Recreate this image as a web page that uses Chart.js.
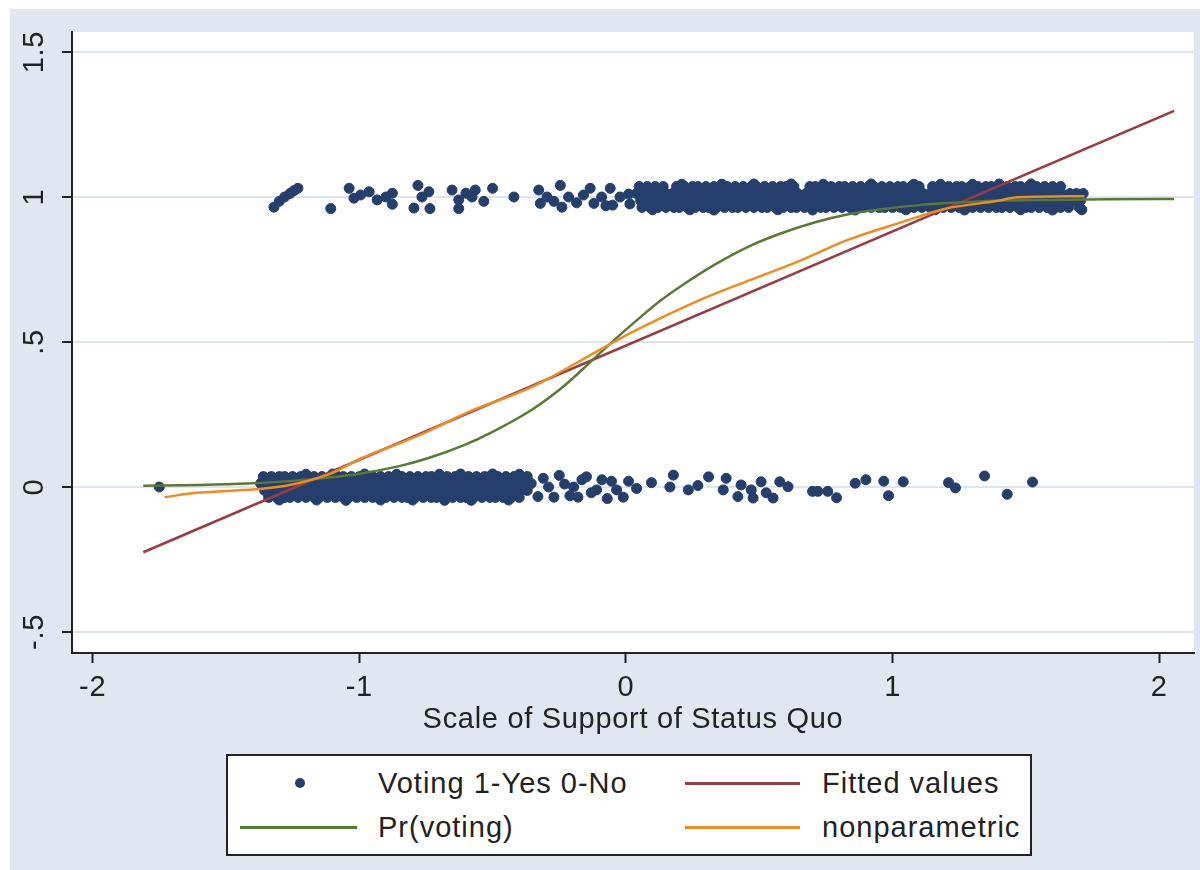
<!DOCTYPE html>
<html>
<head>
<meta charset="utf-8">
<script src="https://cdn.jsdelivr.net/npm/chart.js@4.4.0/dist/chart.umd.min.js"></script>
<style>
  body { margin: 0; background: #fff; width: 1200px; height: 870px; overflow: hidden; font-family: 'Liberation Sans', Arial, sans-serif; }
  #frame { position: absolute; left: 10px; top: 9px; width: 1190px; height: 861px; background: #e1e6f0; }
  #chart { position: absolute; left: 0; top: 0; }
  #legend { position: absolute; left: 226px; top: 754px; width: 806px; height: 102px; box-sizing: border-box; border: 2px solid #222; background: #fff; color: #222; font-size: 29px; letter-spacing: 1px; }
  #legend .txt { position: absolute; line-height: 34px; white-space: nowrap; }
  #legend .ln { position: absolute; height: 3px; }
  #legend .dot { position: absolute; width: 10px; height: 10px; border-radius: 50%; background: #253f6d; }
</style>
</head>
<body>
<div id="frame"><canvas id="chart" width="1190" height="861"></canvas></div>
<div id="legend">
  <div class="dot" style="left:67px; top:22px"></div>
  <div class="txt" style="left:150px; top:10px">Voting 1-Yes 0-No</div>
  <div class="ln" style="left:457px; top:26px; width:115px; background:#993a44"></div>
  <div class="txt" style="left:594px; top:10px">Fitted values</div>
  <div class="ln" style="left:12px; top:70px; width:117px; background:#5a7a34"></div>
  <div class="txt" style="left:150px; top:54px">Pr(voting)</div>
  <div class="ln" style="left:457px; top:70px; width:115px; background:#ee8c1c"></div>
  <div class="txt" style="left:594px; top:54px">nonparametric</div>
</div>
<script>
// axis ticks
const xTicks = [-2, -1, 0, 1, 2];
const yTicks = [-0.5, 0, 0.5, 1, 1.5];

// voters (1) - dense band read in four rows, plus scattered points
const yesRowY = [1.036, 1.012, 0.988, 0.964];
const yesHiX = [0.05,0.08,0.11,0.14,0.19,0.22,0.25,0.27,0.30,0.33,0.36,0.38,0.41,0.44,0.47,0.49,0.52,0.55,0.58,0.60,0.63,0.69,0.71,0.74,0.77,0.80,0.82,0.85,0.88,0.91,0.93,0.96,0.99,1.02,1.04,1.07,1.10,1.15,1.18,1.21,1.24,1.26,1.29,1.32,1.35,1.37,1.40,1.43,1.46,1.48,1.51,1.54,1.57,1.60,1.63];
const yesMidX = [0.04,0.065,0.095,0.125,0.15,0.175,0.205,0.235,0.26,0.285,0.315,0.345,0.37,0.395,0.425,0.455,0.48,0.505,0.535,0.565,0.59,0.615,0.645,0.675,0.70,0.725,0.755,0.785,0.81,0.835,0.865,0.895,0.92,0.945,0.975,1.005,1.03,1.055,1.085,1.115,1.14,1.165,1.195,1.225,1.25,1.275,1.305,1.335,1.36,1.385,1.415,1.445,1.47,1.495,1.525,1.555,1.58,1.605,1.635,1.665,1.69,1.715];
const yesMid2X = [0.055,0.085,0.11,0.14,0.165,0.19,0.22,0.245,0.275,0.30,0.33,0.355,0.385,0.41,0.44,0.465,0.495,0.52,0.55,0.575,0.605,0.63,0.66,0.685,0.715,0.74,0.77,0.795,0.825,0.85,0.88,0.905,0.935,0.96,0.99,1.015,1.045,1.07,1.10,1.125,1.155,1.18,1.21,1.235,1.265,1.29,1.32,1.345,1.375,1.40,1.43,1.455,1.485,1.51,1.54,1.565,1.595,1.62,1.65,1.68,1.705];
const yesLoX = [0.06,0.09,0.12,0.15,0.18,0.20,0.23,0.26,0.29,0.31,0.34,0.37,0.40,0.42,0.45,0.48,0.51,0.53,0.56,0.59,0.62,0.64,0.67,0.70,0.73,0.75,0.78,0.81,0.84,0.86,0.89,0.92,0.95,0.97,1.00,1.03,1.06,1.08,1.11,1.14,1.17,1.19,1.22,1.25,1.28,1.30,1.33,1.36,1.39,1.41,1.44,1.47,1.50,1.52,1.55,1.58,1.61,1.63,1.66,1.70];
const yesOther = [[-1.32,0.965],[-1.30,0.985],[-1.28,1.0],[-1.26,1.012],[-1.245,1.022],[-1.23,1.03],[-1.107,0.96],[-1.038,1.03],[-1.02,0.996],[-0.995,1.007],[-0.963,1.018],[-0.933,0.99],[-0.90,1.0],[-0.876,1.013],[-0.876,0.975],[-0.795,0.962],[-0.78,1.04],[-0.765,1.0],[-0.739,1.018],[-0.735,0.96],[-0.652,1.024],[-0.627,0.99],[-0.627,0.96],[-0.60,1.013],[-0.577,1.0],[-0.565,1.024],[-0.533,0.985],[-0.50,1.03],[-0.42,1.0],[-0.327,1.024],[-0.321,0.978],[-0.296,1.0],[-0.27,0.985],[-0.246,1.04],[-0.24,0.965],[-0.215,1.0],[-0.185,0.98],[-0.159,1.007],[-0.134,1.03],[-0.12,0.978],[-0.091,1.0],[-0.075,0.97],[-0.059,1.03],[-0.05,0.972],[-0.022,1.0],[0.01,1.01],[0.015,0.976],
  [0.21,1.044],[0.48,1.045],[0.74,1.044],[0.92,1.045],[1.18,1.044],[1.40,1.045],[1.52,1.045],[0.10,0.956],[0.33,0.955],[0.57,0.956],[0.86,0.955],[1.05,0.956],[1.27,0.955],[1.48,0.956],[1.71,0.956],
  [0.36,1.044],[0.62,1.045],[1.08,1.044],[1.30,1.044],[0.24,0.956],[0.70,0.955],[1.16,0.956],[1.60,0.955]];

// non-voters (0)
const noRowY = [0.036, 0.012, -0.012, -0.036];
const noHiX = [-1.36,-1.33,-1.30,-1.28,-1.25,-1.22,-1.19,-1.17,-1.14,-1.11,-1.08,-1.06,-1.03,-1.00,-0.97,-0.95,-0.92,-0.89,-0.86,-0.84,-0.81,-0.78,-0.75,-0.73,-0.70,-0.67,-0.64,-0.62,-0.59,-0.56,-0.53,-0.51,-0.48,-0.45,-0.42,-0.40,-0.37];
const noMidX = [-1.37,-1.345,-1.315,-1.29,-1.26,-1.235,-1.205,-1.18,-1.15,-1.125,-1.095,-1.07,-1.04,-1.015,-0.985,-0.96,-0.93,-0.905,-0.875,-0.85,-0.82,-0.795,-0.765,-0.74,-0.71,-0.685,-0.655,-0.63,-0.60,-0.575,-0.545,-0.52,-0.49,-0.465,-0.435,-0.41,-0.38,-0.355];
const noMid2X = [-1.355,-1.33,-1.30,-1.275,-1.245,-1.22,-1.19,-1.165,-1.135,-1.11,-1.08,-1.055,-1.025,-1.0,-0.97,-0.945,-0.915,-0.89,-0.86,-0.835,-0.805,-0.78,-0.75,-0.725,-0.695,-0.67,-0.64,-0.615,-0.585,-0.56,-0.53,-0.505,-0.475,-0.45,-0.42,-0.395,-0.37];
const noLoX = [-1.34,-1.31,-1.28,-1.26,-1.23,-1.20,-1.17,-1.15,-1.12,-1.09,-1.06,-1.04,-1.01,-0.98,-0.95,-0.93,-0.90,-0.87,-0.84,-0.82,-0.79,-0.76,-0.73,-0.71,-0.68,-0.65,-0.62,-0.60,-0.57,-0.54,-0.51,-0.49,-0.46,-0.43,-0.40];
const noOther = [[-1.75,0],[-1.30,-0.045],[-1.05,-0.046],[-0.80,-0.045],[-0.58,-0.046],[-0.44,-0.045],[-1.20,0.044],[-0.98,0.045],[-0.70,0.044],[-0.50,0.045],
  [-1.16,-0.045],[-0.92,-0.045],[-0.68,-0.046],[-1.10,0.045],[-0.86,0.044],[-0.62,0.045],[-0.40,0.044],
  [-0.33,-0.033],[-0.31,0.03],[-0.29,0.0],[-0.27,-0.035],[-0.25,0.04],[-0.23,0.01],[-0.21,-0.03],[-0.196,0.0],[-0.18,-0.035],[-0.165,0.025],[-0.148,0.035],[-0.13,-0.02],[-0.11,-0.01],[-0.09,0.025],[-0.07,-0.04],[-0.054,0.02],[-0.035,-0.01],[-0.01,-0.035],[0.01,0.02],[0.04,-0.005],
  [0.096,0.015],[0.165,0.0],[0.178,0.041],[0.234,-0.01],[0.27,0.005],[0.31,0.035],[0.365,-0.01],[0.376,0.03],[0.42,-0.033],[0.432,0.007],[0.47,-0.01],[0.477,-0.038],[0.507,0.018],[0.526,-0.02],[0.552,-0.038],[0.577,0.018],[0.608,0.001],[0.70,-0.015],[0.72,-0.015],[0.757,-0.015],[0.79,-0.037],[0.86,0.013],[0.90,0.025],[0.967,0.02],[0.985,-0.03],[1.04,0.018],[1.21,0.015],[1.236,-0.003],[1.345,0.038],[1.43,-0.025],[1.525,0.017]];

// fitted values (linear)
const fitX = [-1.81, 2.056];
const fitY = [-0.225, 1.297];
// Pr(voting)
const prX = [-1.81,-1.6,-1.42,-1.24,-1.0,-0.85,-0.74,-0.6,-0.5,-0.35,-0.23,-0.14,-0.04,0.06,0.13,0.21,0.33,0.46,0.58,0.71,0.83,0.96,1.1,1.21,1.39,1.6,1.8,2.056];
const prY = [0.004,0.007,0.012,0.022,0.046,0.072,0.1,0.147,0.19,0.268,0.35,0.425,0.51,0.59,0.643,0.695,0.765,0.829,0.874,0.913,0.94,0.958,0.972,0.979,0.987,0.99,0.992,0.993];
// nonparametric
const npX = [-1.73,-1.61,-1.39,-1.275,-1.11,-0.99,-0.86,-0.74,-0.6,-0.35,-0.10,0.02,0.084,0.27,0.458,0.645,0.832,1.02,1.206,1.39,1.47,1.72];
const npY = [-0.035,-0.02,-0.008,0.004,0.045,0.1,0.147,0.193,0.255,0.346,0.472,0.532,0.562,0.642,0.711,0.777,0.852,0.909,0.961,0.986,0.999,1.003];

const rowPts = (xs, y) => xs.map((x) => ({ x, y }));
const pairPts = (arr) => arr.map((p) => ({ x: p[0], y: p[1] }));
const linePts = (xs, ys) => xs.map((x, i) => ({ x, y: ys[i] }));

const scatterPts = [].concat(
  rowPts(noHiX, noRowY[0]), rowPts(noMidX, noRowY[1]), rowPts(noMid2X, noRowY[2]), rowPts(noLoX, noRowY[3]), pairPts(noOther),
  rowPts(yesHiX, yesRowY[0]), rowPts(yesMidX, yesRowY[1]), rowPts(yesMid2X, yesRowY[2]), rowPts(yesLoX, yesRowY[3]), pairPts(yesOther)
);

const FONT = "'Liberation Sans', Arial, sans-serif";
const INK = '#222';
const fmt = (v) => String(v).replace('0.', '.');

const plotBg = {
  id: 'plotBg',
  beforeDraw(chart) {
    const { ctx, chartArea: a } = chart;
    ctx.letterSpacing = '0.7px';
    ctx.save();
    ctx.fillStyle = '#fff';
    ctx.fillRect(a.left, a.top, a.right - a.left, a.bottom - a.top);
    ctx.restore();
  },
};

// stata draws y labels turned on their side
const yLabels = {
  id: 'yLabels',
  afterDraw(chart) {
    const { ctx } = chart;
    const s = chart.scales.y;
    ctx.save();
    ctx.fillStyle = INK;
    ctx.font = `29px ${FONT}`;
    ctx.textAlign = 'center';
    ctx.textBaseline = 'middle';
    yTicks.forEach((v) => {
      ctx.save();
      ctx.translate(25, s.getPixelForValue(v));
      ctx.rotate(-Math.PI / 2);
      ctx.fillText(fmt(v), 0, 0);
      ctx.restore();
    });
    ctx.restore();
  },
};

new Chart(document.getElementById('chart'), {
  type: 'scatter',
  data: {
    datasets: [
      { label: 'Voting 1-Yes 0-No', data: scatterPts, order: 4, pointRadius: 5, pointHoverRadius: 5, borderWidth: 1, backgroundColor: '#253f6d', borderColor: '#253f6d' },
      { label: 'Fitted values', data: linePts(fitX, fitY), order: 3, showLine: true, pointRadius: 0, borderWidth: 2.5, borderColor: '#993a44' },
      { label: 'Pr(voting)', data: linePts(prX, prY), order: 2, showLine: true, pointRadius: 0, borderWidth: 2.5, borderColor: '#5a7a34', cubicInterpolationMode: 'monotone' },
      { label: 'nonparametric', data: linePts(npX, npY), order: 1, showLine: true, pointRadius: 0, borderWidth: 2.5, borderColor: '#ee8c1c', cubicInterpolationMode: 'monotone' },
    ],
  },
  options: {
    responsive: false,
    animation: false,
    layout: { padding: { left: 0, top: 23, right: 3, bottom: 117 } },
    plugins: { legend: { display: false }, tooltip: { enabled: false } },
    scales: {
      x: {
        type: 'linear',
        min: -2.0774,
        max: 2.1306,
        afterBuildTicks: (s) => { s.ticks = xTicks.map((v) => ({ value: v })); },
        afterFit: (s) => { s.height = 100; },
        grid: { drawOnChartArea: false, tickLength: 10, tickWidth: 2, tickColor: INK },
        border: { color: INK, width: 2 },
        ticks: { color: INK, padding: 8, font: { family: FONT, size: 29 }, maxRotation: 0, callback: (v) => fmt(v) },
        title: { display: true, text: 'Scale of Support of Status Quo', color: INK, font: { family: FONT, size: 29 }, padding: { top: 0, bottom: 16 } },
      },
      y: {
        type: 'linear',
        min: -0.5724,
        max: 1.569,
        afterBuildTicks: (s) => { s.ticks = yTicks.map((v) => ({ value: v })); },
        afterFit: (s) => { s.width = 62; },
        grid: { color: '#dfe5ef', lineWidth: 2, tickLength: 10, tickWidth: 2, tickColor: INK },
        border: { color: INK, width: 2 },
        ticks: { color: 'transparent', font: { family: FONT, size: 29 } },
      },
    },
  },
  plugins: [plotBg, yLabels],
});
</script>
</body>
</html>
